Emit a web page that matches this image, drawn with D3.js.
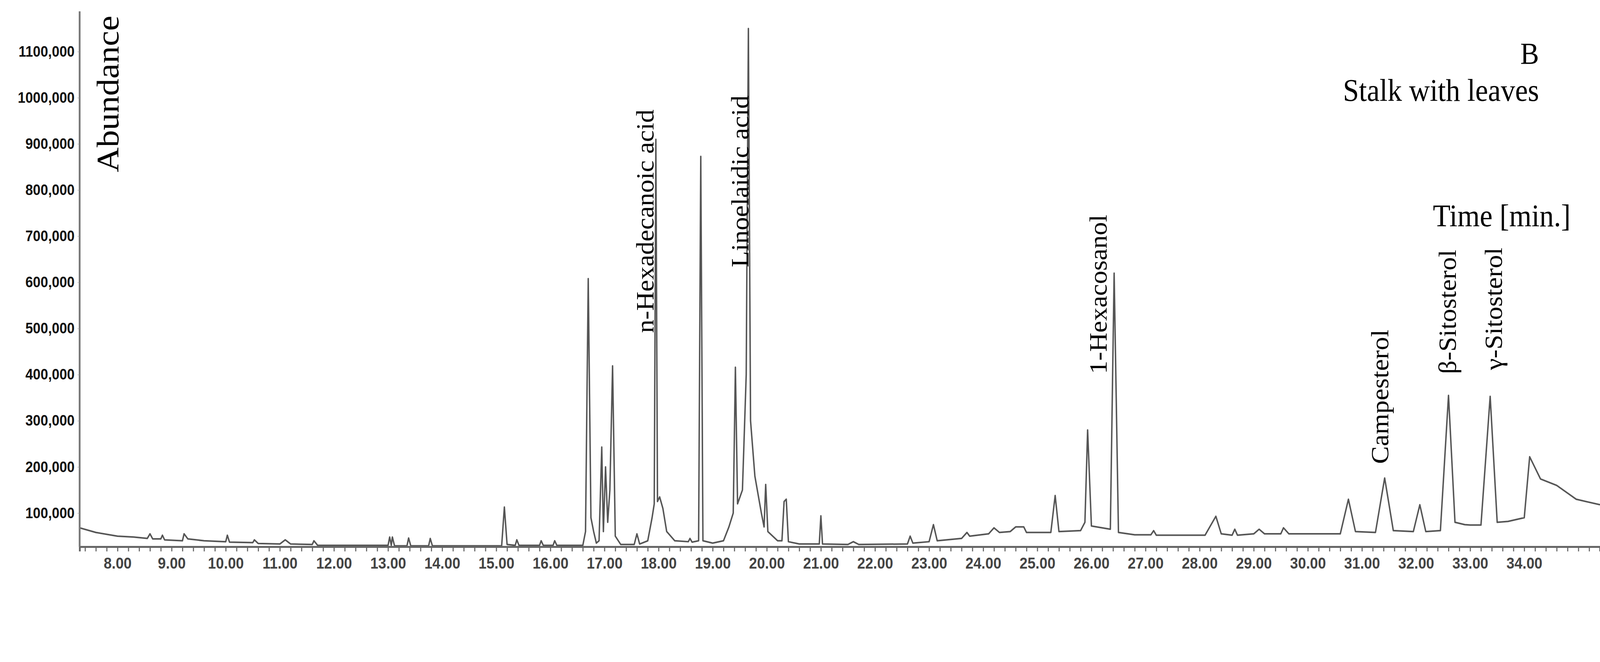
<!DOCTYPE html>
<html>
<head>
<meta charset="utf-8">
<script src="https://cdn.jsdelivr.net/npm/d3@7"></script>
<style>
  html, body { margin: 0; padding: 0; background: #fff; overflow: hidden; }
  svg { display: block; width: 100vw; height: 100vh; }
  .tick text { font-family: "Liberation Sans", Arial, sans-serif; font-weight: bold; }
  .serif { font-family: "Liberation Serif", "Times New Roman", serif; fill: #000; }
</style>
</head>
<body>
<script>
// chromatogram trace: [time (min), abundance]
const trace = [
  [7.3, 68000], [7.6, 58000], [8.0, 50000], [8.3, 48000], [8.55, 45000], [8.6, 55000], [8.65, 44000],
  [8.8, 44000], [8.83, 52000], [8.87, 42000], [9.2, 40000], [9.23, 55000], [9.3, 44000], [9.6, 40000],
  [10.0, 38000], [10.03, 52000], [10.07, 37000], [10.5, 36000], [10.53, 42000], [10.6, 34000],
  [11.0, 33000], [11.1, 42000], [11.2, 33000], [11.6, 32000], [11.63, 40000], [11.7, 30000],
  [12.5, 30000], [13.0, 30000], [13.03, 48000], [13.06, 30000], [13.08, 48000], [13.12, 29000],
  [13.35, 29000], [13.38, 46000], [13.42, 29000], [13.75, 29000], [13.78, 45000], [13.82, 29000],
  [14.5, 29000], [15.1, 29000], [15.15, 113000], [15.2, 32000], [15.35, 30000], [15.38, 42000],
  [15.42, 30000], [15.8, 30000], [15.83, 40000], [15.87, 30000], [16.05, 30000], [16.08, 40000],
  [16.12, 30000], [16.6, 30000], [16.65, 60000], [16.7, 608000], [16.75, 90000], [16.8, 60000],
  [16.85, 35000], [16.9, 40000], [16.95, 243000], [16.98, 60000], [17.02, 200000], [17.06, 80000],
  [17.1, 150000], [17.15, 419000], [17.2, 50000], [17.3, 32000], [17.55, 32000], [17.6, 55000],
  [17.65, 33000], [17.8, 40000], [17.88, 90000], [17.92, 120000], [17.95, 910000], [17.98, 125000],
  [18.02, 135000], [18.08, 110000], [18.15, 60000], [18.3, 40000], [18.55, 38000], [18.58, 45000],
  [18.62, 37000], [18.74, 40000], [18.78, 873000], [18.82, 40000], [19.0, 35000], [19.2, 40000],
  [19.3, 70000], [19.38, 100000], [19.42, 416000], [19.46, 120000], [19.55, 150000], [19.62, 400000],
  [19.66, 1150000], [19.7, 300000], [19.78, 180000], [19.9, 100000], [19.95, 70000], [19.98, 162000],
  [20.02, 60000], [20.2, 40000], [20.28, 40000], [20.32, 125000], [20.36, 130000], [20.4, 38000],
  [20.6, 33000], [20.97, 33000], [21.0, 94000], [21.03, 33000], [21.5, 32000], [21.6, 38000],
  [21.7, 32000], [22.6, 33000], [22.65, 50000], [22.7, 35000], [23.0, 38000], [23.08, 75000],
  [23.15, 40000], [23.6, 45000], [23.7, 58000], [23.75, 50000], [24.1, 55000], [24.2, 68000],
  [24.3, 58000], [24.5, 60000], [24.6, 70000], [24.75, 70000], [24.8, 58000], [25.25, 58000],
  [25.33, 138000], [25.4, 60000], [25.8, 62000], [25.88, 80000], [25.93, 280000], [26.0, 72000],
  [26.35, 65000], [26.42, 620000], [26.5, 58000], [26.8, 53000], [27.1, 53000], [27.15, 62000],
  [27.2, 52000], [28.1, 52000], [28.3, 93000], [28.4, 55000], [28.6, 52000], [28.65, 65000],
  [28.7, 52000], [29.0, 55000], [29.1, 65000], [29.2, 55000], [29.5, 55000], [29.55, 68000],
  [29.65, 55000], [30.6, 55000], [30.75, 130000], [30.88, 60000], [31.25, 58000], [31.42, 176000],
  [31.58, 62000], [31.95, 60000], [32.07, 118000], [32.18, 60000], [32.45, 62000], [32.6, 355000],
  [32.72, 80000], [32.9, 75000], [33.0, 74000], [33.2, 74000], [33.37, 353000], [33.5, 80000],
  [33.7, 82000], [34.0, 90000], [34.1, 222000], [34.3, 174000], [34.6, 160000], [34.96, 130000],
  [35.4, 118000]
];

const xTicks = d3.range(8, 35, 1);
const yTicks = d3.range(100000, 1200000, 100000);

const peakLabels = ["n-Hexadecanoic acid", "Linoelaidic acid", "1-Hexacosanol", "Campesterol", "β-Sitosterol", "γ-Sitosterol"];
const peakLabelTimes = [17.75, 19.5, 26.12, 31.33, 32.58, 33.43];
const peakLabelBase = [852, 684, 957, 1187, 957, 947];

const W = 4460, H = 1694;
const svg = d3.select("body").append("svg")
    .attr("viewBox", "0 0 " + W + " " + H)
    .attr("preserveAspectRatio", "none");

const x = d3.scaleLinear().domain([7.3, 35.4]).range([222, 4460]);
const y = d3.scaleLinear().domain([0, 1200000]).range([1431, 14]);
const axisY = 1399;

svg.append("clipPath").attr("id", "clip")
  .append("rect").attr("x", 222).attr("y", 0).attr("width", W - 222).attr("height", axisY);

const line = d3.line().x(d => x(d[0])).y(d => y(d[1]));

svg.append("path")
    .datum(trace)
    .attr("clip-path", "url(#clip)")
    .attr("d", line)
    .attr("fill", "none")
    .attr("stroke", "#555")
    .attr("stroke-width", 4)
    .attr("stroke-linejoin", "round");

// x axis with minor ticks
const xAxis = svg.append("g")
    .attr("transform", "translate(0," + axisY + ")")
    .call(d3.axisBottom(x).tickValues(d3.range(7.4, 35.4, 0.2)).tickSize(12).tickFormat(""));
xAxis.select(".domain").attr("stroke", "#666").attr("stroke-width", 5);
xAxis.selectAll(".tick line").attr("stroke", "#666").attr("stroke-width", 3);

const xLab = svg.append("g")
    .attr("transform", "translate(0," + axisY + ")")
    .call(d3.axisBottom(x).tickValues(xTicks).tickSize(0).tickPadding(28).tickFormat(d3.format(".2f")));
xLab.select(".domain").remove();
xLab.selectAll("text").attr("font-size", 40).attr("fill", "#444");

// y axis
const yAxis = svg.append("g")
    .attr("transform", "translate(222,0)")
    .call(d3.axisLeft(y).tickValues(yTicks).tickSize(6).tickPadding(8)
      .tickFormat(d => (d / 1000) + ",000"));
yAxis.select(".domain").attr("d", "M0,29V" + axisY).attr("stroke", "#777").attr("stroke-width", 5);
yAxis.selectAll(".tick line").attr("stroke", "#999");
yAxis.selectAll("text").attr("font-size", 38).attr("fill", "#111");

// titles
svg.append("text").attr("class", "serif")
    .attr("transform", "translate(330,40) rotate(-90)")
    .attr("text-anchor", "end")
    .attr("font-size", 88)
    .text("Abundance");

svg.append("text").attr("class", "serif")
    .attr("x", 4290).attr("y", 163).attr("text-anchor", "end").attr("font-size", 78)
    .text("B");
svg.append("text").attr("class", "serif")
    .attr("x", 4290).attr("y", 258).attr("text-anchor", "end").attr("font-size", 80)
    .text("Stalk with leaves");
svg.append("text").attr("class", "serif")
    .attr("x", 4378).attr("y", 579).attr("text-anchor", "end").attr("font-size", 80)
    .text("Time [min.]");

// peak labels
svg.selectAll(".plabel")
  .data(peakLabels)
  .enter()
  .append("text")
    .attr("class", "serif plabel")
    .attr("transform", (d, i) => "translate(" + (x(peakLabelTimes[i]) + 24) + "," + peakLabelBase[i] + ") rotate(-90)")
    .attr("font-size", 68)
    .text(d => d);
</script>
</body>
</html>
